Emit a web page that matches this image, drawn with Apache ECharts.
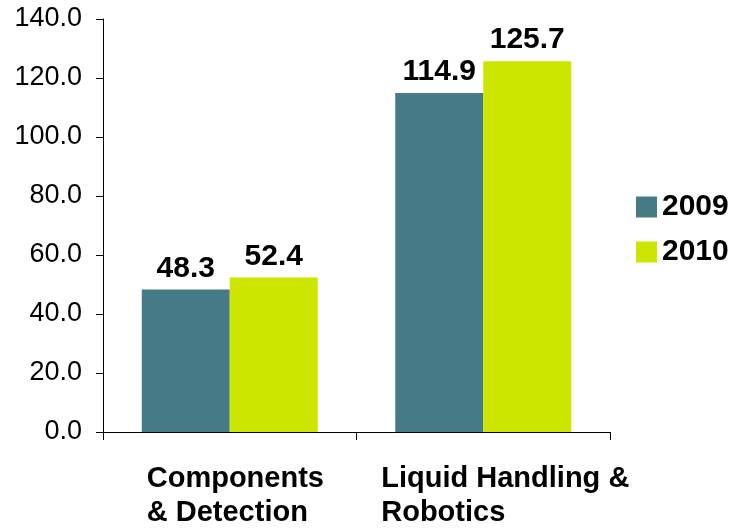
<!DOCTYPE html>
<html>
<head>
<meta charset="utf-8">
<script src="https://cdn.jsdelivr.net/npm/echarts@6/dist/echarts.min.js"></script>
<style>
  html, body { margin: 0; padding: 0; background: #fff; }
  #chart { width: 733px; height: 528px; }
</style>
</head>
<body>
<div id="chart"></div>
<script>
// Segment revenue by product line
const categories = ['Components\n& Detection', 'Liquid Handling &\nRobotics'];
const seriesNames = ['2009', '2010'];
const values2009 = [48.3, 114.9];
const values2010 = [52.4, 125.7];
const seriesColors = ['#467A86', '#CCE600'];

const FONT = '"Liberation Sans", Arial, Helvetica, sans-serif';

const chart = echarts.init(document.getElementById('chart'), null, { renderer: 'canvas' });

// Each category label is a left-aligned block; its box width sets where it starts.
const labelBoxWidths = [166, 204];
const rich = {};
labelBoxWidths.forEach((w, i) => {
  rich['c' + i] = {
    width: w,
    align: 'left',
    fontFamily: FONT,
    fontSize: 29,
    fontWeight: 'bold',
    lineHeight: 34,
    color: '#000'
  };
});

const barLabel = {
  show: true,
  position: 'top',
  distance: 6,
  fontFamily: FONT,
  fontSize: 30,
  fontWeight: 'bold',
  color: '#000',
  formatter: p => p.value.toFixed(1)
};

chart.setOption({
  animation: false,
  backgroundColor: '#fff',
  grid: { left: 103, right: 123, top: 19, bottom: 96, containLabel: false },
  legend: {
    orient: 'vertical',
    left: 631,
    top: 187,
    icon: 'rect',
    itemWidth: 21,
    itemHeight: 21,
    itemGap: 15,
    textStyle: { fontFamily: FONT, fontSize: 30, fontWeight: 'bold', color: '#000' },
    data: seriesNames
  },
  xAxis: {
    type: 'category',
    data: categories,
    axisLine: { lineStyle: { color: '#000', width: 1 } },
    axisTick: { show: true, length: 8, alignWithLabel: false, lineStyle: { color: '#000' } },
    axisLabel: {
      interval: 0,
      margin: 30,
      align: 'center',
      formatter: (v, i) => v.split('\n').map(l => '{c' + i + '|' + l + '}').join('\n'),
      rich: rich
    }
  },
  yAxis: {
    type: 'value',
    min: 0,
    max: 140,
    interval: 20,
    splitLine: { show: false },
    axisLine: { show: true, lineStyle: { color: '#000', width: 1 } },
    axisTick: { show: true, length: 7, lineStyle: { color: '#000' } },
    axisLabel: {
      margin: 21,
      fontFamily: FONT,
      fontSize: 27,
      color: '#000',
      formatter: v => v.toFixed(1)
    }
  },
  series: [
    {
      name: seriesNames[0],
      type: 'bar',
      data: values2009,
      barWidth: 88,
      barGap: '0%',
      itemStyle: { color: seriesColors[0] },
      label: barLabel
    },
    {
      name: seriesNames[1],
      type: 'bar',
      data: values2010,
      barWidth: 88,
      barGap: '0%',
      itemStyle: { color: seriesColors[1] },
      label: barLabel
    }
  ]
});
</script>
</body>
</html>
